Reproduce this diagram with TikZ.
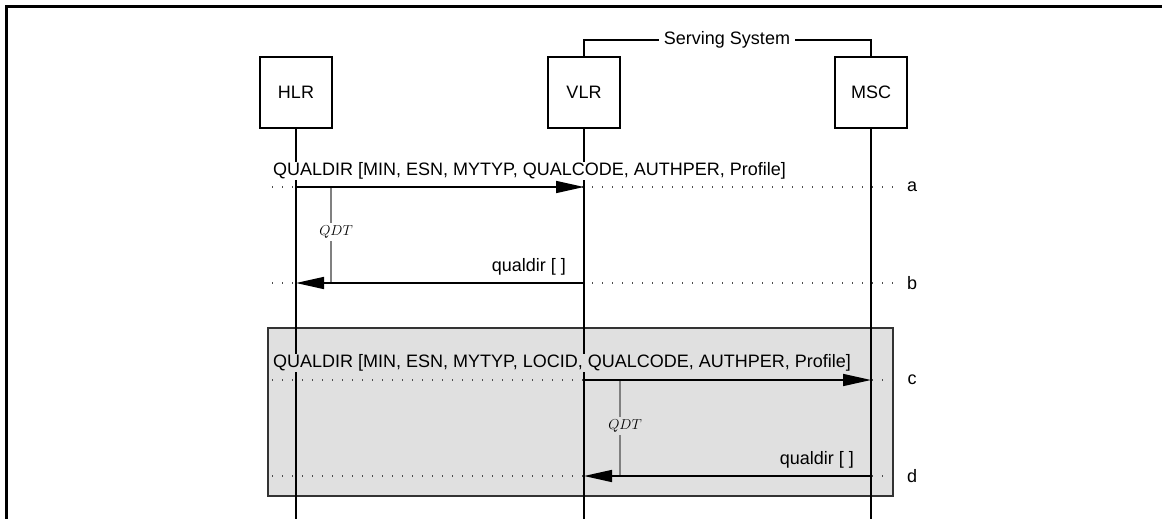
\documentclass[tikz,border=0pt]{standalone}
\usepackage{fontspec}
\setmainfont{Liberation Sans}
\usetikzlibrary{arrows.meta}
\begin{document}
\begin{tikzpicture}[x=1pt,y=-1pt,
  every node/.style={font=\fontsize{18}{21}\selectfont},
  entity/.style={draw, line width=1.6pt, minimum width=72pt, minimum height=71pt, inner sep=0pt},
  life/.style={line width=1.6pt},
  bracket/.style={line width=1.3pt},
  msg/.style={line width=1.6pt, -{Triangle[length=28pt,width=12pt]}},
  dotrow/.style={line width=1.3pt, black!70, dash pattern=on 1.3pt off 8.7pt},
  qdtline/.style={line width=1.6pt, black!50},
  qdtlbl/.style={font=\fontsize{14}{16}\selectfont, inner sep=2.5pt},
  msglbl/.style={inner sep=1pt},
  rowlbl/.style={inner sep=1pt},
]
\useasboundingbox (0,0) rectangle (1162,519);
% outer frame (cropped)
\draw[line width=3pt] (6,521) -- (6,6.5) -- (1165,6.5);
% shaded group
\draw[fill=black!12, draw=black!80, line width=1.5pt] (268,328) rectangle (893,496);
% entities
\node[entity] (hlr) at (296,92.5) {HLR};
\node[entity] (vlr) at (584,92.5) {VLR};
\node[entity] (msc) at (871,92.5) {MSC};
% lifelines
\coordinate (hlrEnd) at (296,521);
\coordinate (vlrEnd) at (584,521);
\coordinate (mscEnd) at (871,521);
\draw[life] (hlr) -- (hlrEnd);
\draw[life] (vlr) -- (vlrEnd);
\draw[life] (msc) -- (mscEnd);
% serving system bracket
\node[fill=white, inner sep=5pt] (ss) at (727,40) {Serving System};
\draw[bracket] (vlr.north) |- (ss.west);
\draw[bracket] (ss.east) -| (msc.north);
% dotted rows
\coordinate (rowAL) at (272,187); \coordinate (rowAR) at (897,187);
\coordinate (rowBL) at (272,283); \coordinate (rowBR) at (897,283);
\coordinate (rowCL) at (272,380); \coordinate (rowCR) at (892,380);
\coordinate (rowDL) at (272,476); \coordinate (rowDR) at (892,476);
\draw[dotrow] (rowAL) -- (rowAR);
\draw[dotrow] (rowBL) -- (rowBR);
\draw[dotrow] (rowCL) -- (rowCR);
\draw[dotrow] (rowDL) -- (rowDR);
% QDT timers
\coordinate (qa1) at (331,187); \coordinate (qa2) at (331,283);
\draw[qdtline] (qa1) -- (qa2);
\node[qdtlbl, fill=white] (qdta) at (336,232) {$QDT$};
\coordinate (qc1) at (620,380); \coordinate (qc2) at (620,476);
\draw[qdtline] (qc1) -- (qc2);
\node[qdtlbl, fill=black!12] (qdtc) at (625,426) {$QDT$};
% messages
\draw[msg] (hlr |- rowAL) -- (vlr |- rowAL);
\draw[msg] (vlr |- rowBL) -- (hlr |- rowBL);
\draw[msg] (vlr |- rowCL) -- (msc |- rowCL);
\draw[msg] (msc |- rowDL) -- (vlr |- rowDL);
% message labels
\node[msglbl, anchor=west, fill=white] (ma) at (272,171) {QUALDIR [MIN, ESN, MYTYP, QUALCODE, AUTHPER, Profile]};
\node[msglbl, anchor=east] (mb) at (567,267) {qualdir [ ]};
\node[msglbl, anchor=west, fill=black!12] (mc) at (272,363) {QUALDIR [MIN, ESN, MYTYP, LOCID, QUALCODE, AUTHPER, Profile]};
\node[msglbl, anchor=east] (md) at (855,460) {qualdir [ ]};
% row labels
\node[rowlbl] (la) at (912,187) {a};
\node[rowlbl] (lb) at (912,283) {b};
\node[rowlbl] (lc) at (912,380) {c};
\node[rowlbl] (ld) at (912,476) {d};
\end{tikzpicture}
\end{document}
